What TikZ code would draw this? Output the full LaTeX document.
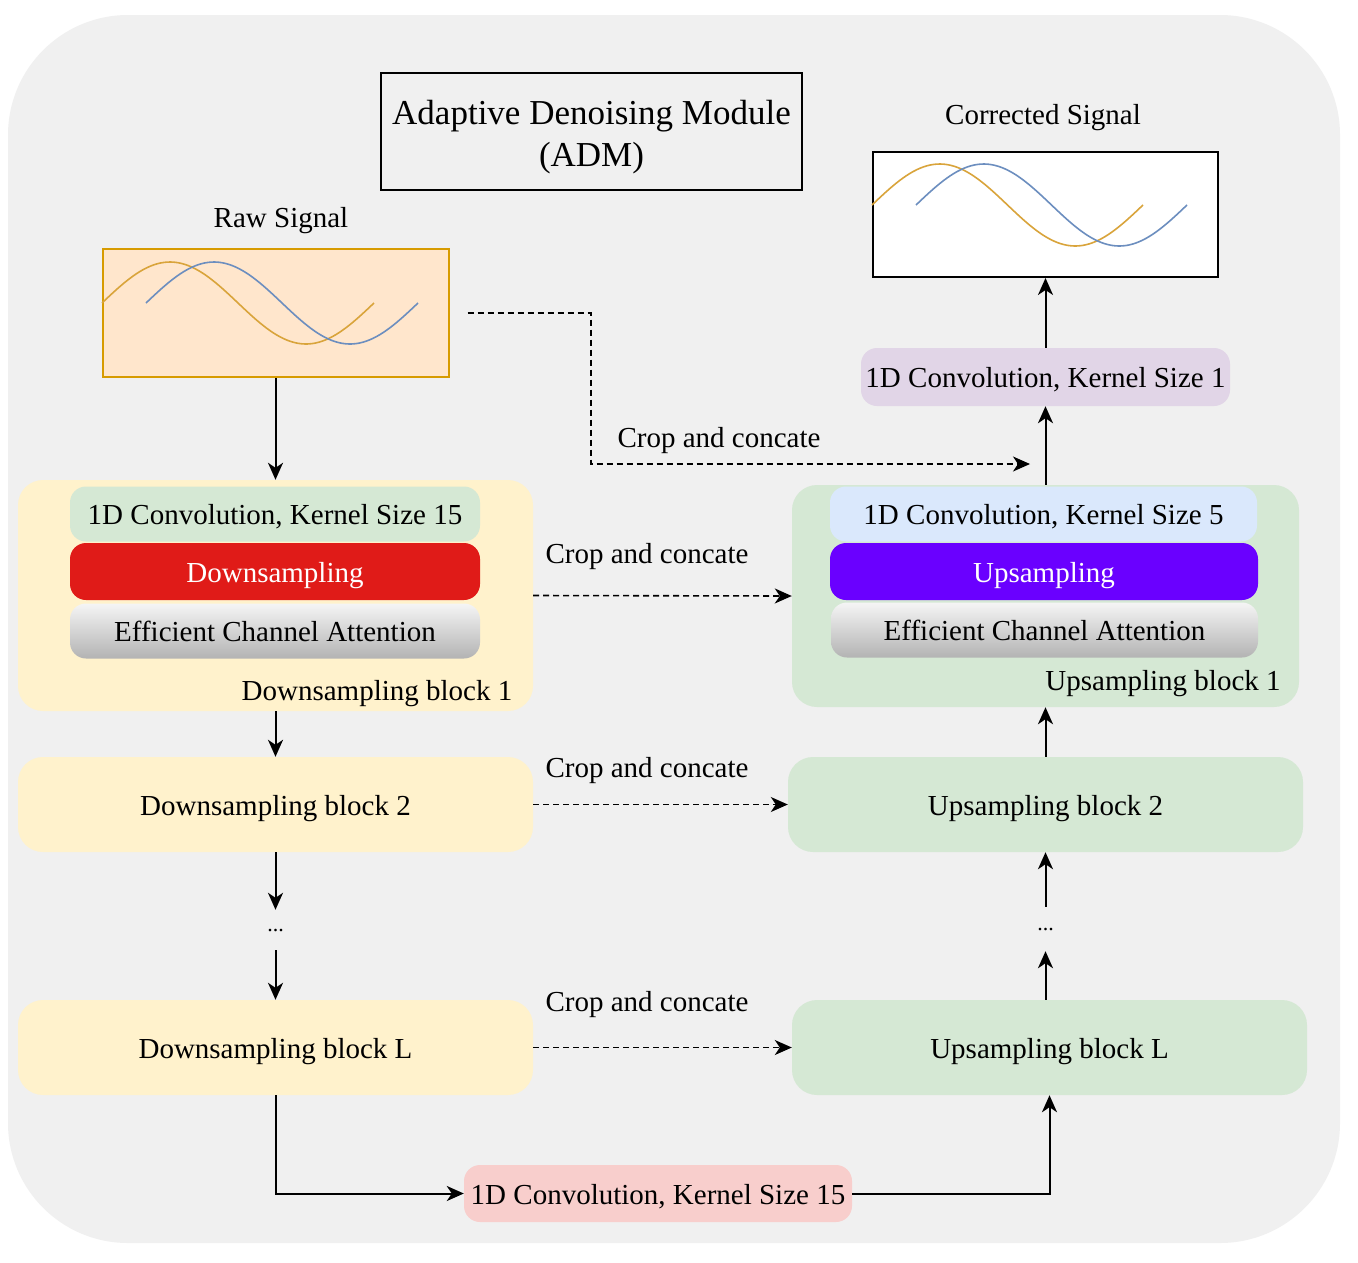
\documentclass[tikz,border=0pt]{standalone}
\usepackage{fontspec}
\setmainfont{Liberation Serif}
\usetikzlibrary{arrows.meta}
\definecolor{bggray}{HTML}{F0F0F0}
\definecolor{rawfill}{HTML}{FFE6CC}
\definecolor{rawline}{HTML}{D79B00}
\definecolor{waveorange}{HTML}{D9A43B}
\definecolor{waveblue}{HTML}{6C8EBF}
\definecolor{downfill}{HTML}{FFF2CC}
\definecolor{upfill}{HTML}{D5E8D4}
\definecolor{convblue}{HTML}{DAE8FC}
\definecolor{convpurple}{HTML}{E1D5E7}
\definecolor{convpink}{HTML}{F8CECC}
\definecolor{downred}{HTML}{E01B18}
\definecolor{upviolet}{HTML}{6A00FF}
\definecolor{ecatop}{HTML}{F5F5F5}
\definecolor{ecabottom}{HTML}{B3B3B3}
\newcommand\diagfont{\fontsize{29}{34}\selectfont}
\newcommand\titlefont{\fontsize{35}{42}\selectfont}
\tikzset{
  every node/.style = { text height=27pt, text depth=5.5pt },
  block/.style   = { rounded corners=25pt, inner sep=0pt, minimum width=515pt, minimum height=95pt },
  layer/.style   = { rounded corners=16pt, inner sep=0pt, minimum height=55pt },
  eca/.style     = { layer, top color=ecatop, bottom color=ecabottom },
  signal/.style  = { inner sep=0pt, line width=2pt },
  wave/.style    = { line width=1.6pt },
  dots/.style    = { inner sep=0pt, text height=2pt, text depth=0pt, font=\fontsize{22}{24}\selectfont },
  arrow/.style   = { -{Stealth[length=17pt, width=15pt, inset=5pt]}, line width=2pt },
  skip/.style    = { arrow, dash pattern=on 6pt off 4pt, line width=1.6pt }
}
\begin{document}
\begin{tikzpicture}[x=1pt, y=-1pt, font=\diagfont]
\useasboundingbox (0,0) rectangle (1358,1262);
\fill[white] (0,0) rectangle (1358,1262);
\fill[bggray, rounded corners=120pt] (8,15) rectangle (1340,1243);

\node[draw, line width=2pt, minimum width=421pt, minimum height=117pt, text height=77pt, text depth=8pt, align=center, font=\titlefont] (title) at (591.5,131.5) {Adaptive Denoising Module\\(ADM)};

\node (raw_title) at (281,217) {Raw Signal};
\node[signal, draw=rawline, fill=rawfill, minimum width=346pt, minimum height=128pt] (raw) at (275.5,313) {};
\draw[wave, waveorange] plot[domain=0:272, samples=80, smooth] ({102+\x},{303-41*sin(\x/272*360)});
\draw[wave, waveblue] plot[domain=0:272, samples=80, smooth] ({146+\x},{303-41*sin(\x/272*360)});

\node (corr_title) at (1043,114) {Corrected Signal};
\node[signal, draw, fill=white, minimum width=345pt, minimum height=125pt] (corr) at (1045.5,214.5) {};
\draw[wave, waveorange] plot[domain=0:271, samples=80, smooth] ({872+\x},{205-41*sin(\x/271*360)});
\draw[wave, waveblue] plot[domain=0:271, samples=80, smooth] ({916+\x},{205-41*sin(\x/271*360)});

\node[layer, fill=convpurple, minimum width=369pt, minimum height=58pt] (conv_out) at (1045.5,377) {1D Convolution, Kernel Size 1};

\node[block, fill=downfill, minimum height=231pt] (down1) at (275.5,595.5) {};
\node[layer, fill=upfill, minimum width=410pt] (down1_conv) at (275,514) {1D Convolution, Kernel Size 15};
\node[layer, fill=downred, text=white, minimum width=410pt, minimum height=57pt] (down1_samp) at (275,571.5) {Downsampling};
\node[eca, minimum width=410pt] (down1_eca) at (275,631) {Efficient Channel Attention};
\node (down1_name) at (377,690) {Downsampling block 1};

\node[block, fill=upfill, minimum width=507pt, minimum height=222pt] (up1) at (1045.5,596) {};
\node[layer, fill=convblue, minimum width=427pt] (up1_conv) at (1043.5,514) {1D Convolution, Kernel Size 5};
\node[layer, fill=upviolet, text=white, minimum width=428pt, minimum height=57pt] (up1_samp) at (1044,571.5) {Upsampling};
\node[eca, minimum width=427pt] (up1_eca) at (1044.5,630) {Efficient Channel Attention};
\node (up1_name) at (1163,680) {Upsampling block 1};

\node[block, fill=downfill] (down2) at (275.5,804.5) {Downsampling block 2};
\node[block, fill=upfill] (up2) at (1045.5,804.5) {Upsampling block 2};
\node[dots, minimum height=40pt] (down_dots) at (275.5,930) {...};
\node[dots, minimum height=44pt] (up_dots) at (1045.5,929) {...};
\node[block, fill=downfill] (downL) at (275.5,1047.5) {Downsampling block L};
\node[block, fill=upfill] (upL) at (1049.5,1047.5) {Upsampling block L};

\node[layer, fill=convpink, minimum width=388pt, minimum height=57pt] (conv_mid) at (658,1193.5) {1D Convolution, Kernel Size 15};

\coordinate (skip_in) at (1030,464);
\draw[skip] ([xshift=18pt]raw.east) -| (591,464) -- (skip_in);
\node (crop0) at (719,437) {Crop and concate};
\draw[skip] (down1.east) -- (up1.west);
\node (crop1) at (647,553) {Crop and concate};
\draw[skip] (down2.east) -- (up2.west);
\node (crop2) at (647,767) {Crop and concate};
\draw[skip] (downL.east) -- (upL.west);
\node (crop3) at (647,1001) {Crop and concate};

\draw[arrow] (raw.south) -- (down1.north);
\draw[arrow] (down1.south) -- (down2.north);
\draw[arrow] (down2.south) -- (down_dots.north);
\draw[arrow] (down_dots.south) -- (downL.north);
\draw[arrow] (downL.south) |- (conv_mid.west);
\draw[arrow] (conv_mid.east) -| (upL.south);
\draw[arrow] (up2.south |- upL.north) -- (up_dots.south);
\draw[arrow] (up_dots.north) -- (up2.south);
\draw[arrow] (up2.north) -- (up1.south);
\draw[arrow] (up1.north) -- (conv_out.south);
\draw[arrow] (conv_out.north) -- (corr.south);
\end{tikzpicture}
\end{document}
